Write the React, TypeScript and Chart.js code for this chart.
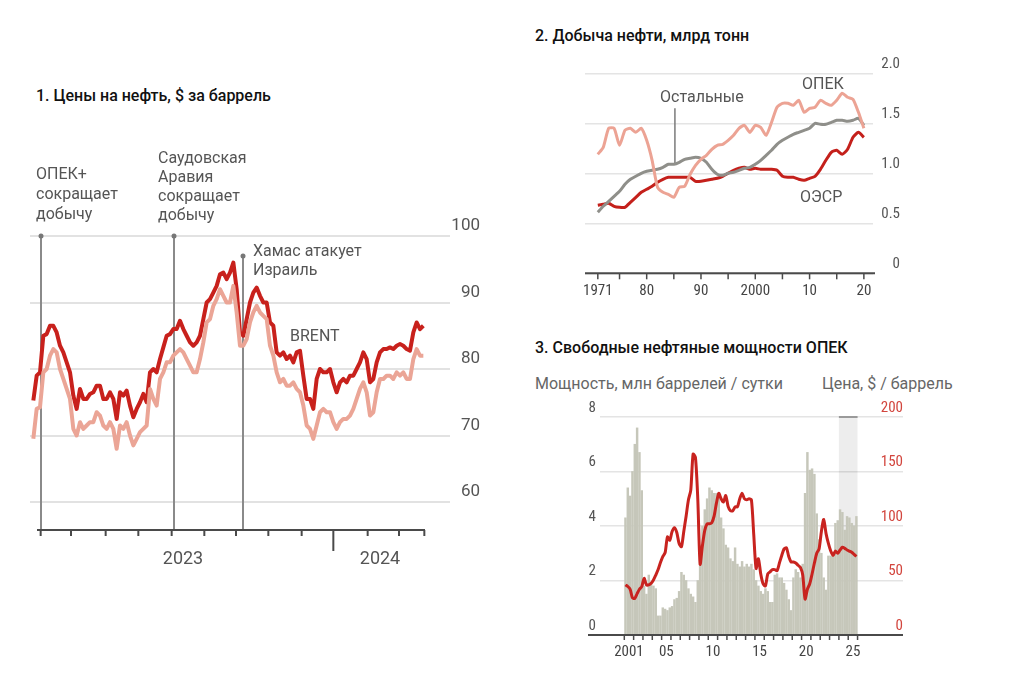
import React, { useEffect, useRef } from "react";
import { Chart, registerables } from "chart.js";
Chart.register(...registerables);

const SANS = "Roboto, 'Noto Sans', Arial, sans-serif";
const NARROW = "'Liberation Sans Narrow', 'Roboto Condensed', Roboto, sans-serif";

// ---------------- Panel 1: oil prices ----------------
const brent = [
  75.25, 79, 79.5, 85, 85.25, 86.5, 86.5, 85.5, 83.5, 82.5,
  81, 79.5, 76, 74, 77, 75.5, 75.5, 76.25, 76.5, 77.5,
  77.5, 75.5, 75.5, 76.5, 75.5, 72.5, 76.5, 76, 76.75, 74.5,
  72.75, 74, 75, 76.25, 75, 79.5, 80, 79.5, 81.5, 83.25,
  85, 85.25, 86, 86, 87.25, 86, 85, 84, 83.5, 84,
  85, 87.5, 90, 90.5, 91.5, 92.5, 94.25, 94.5, 93.5, 94.5,
  96, 92, 85.5, 85, 87.5, 90, 91.5, 92.25, 91, 90,
  90, 87, 86.5, 82.5, 82, 82.5, 81.5, 82, 81, 82.5,
  82.75, 79, 75.5, 75.5, 74, 78.5, 80, 79.5, 79.5, 80,
  78, 76.5, 78, 78.5, 78, 79, 79, 80, 81, 82.5,
  81.5, 78, 78.5, 81, 82.5, 83, 83, 83.25, 83, 83.5,
  83.75, 83.5, 83, 82.75, 85.5, 87, 86, 86.5,
];
const wti = [
  69.5, 74, 74.25, 79.5, 80, 82, 83, 82.5, 80, 78.5,
  77, 75.5, 71, 70, 72, 71, 71.5, 72, 72, 73.5,
  73, 71.5, 71, 72, 71, 68, 71.5, 71, 72, 70,
  68.5, 69.5, 70.5, 71, 71.5, 77, 75.5, 74.5, 78.5, 79.5,
  81, 81, 82, 82.5, 83, 82.5, 81.5, 80.5, 79.5, 79.5,
  81.5, 84, 87, 87.5, 89.5, 90.5, 92, 91, 90, 90,
  92.5, 88.5, 83.5, 83.5, 84.5, 87, 88.5, 89.5, 88.5, 88,
  87.5, 83.5, 82, 79.5, 78, 78.5, 77.5, 77.5, 78, 77,
  76.5, 74.5, 71.5, 71, 69.5, 71.5, 73.5, 74, 73.5, 73.5,
  72, 71, 72, 72.5, 72.5, 73, 74, 75.5, 77, 78,
  76.5, 73, 73.5, 76.5, 78.5, 78.5, 79, 79, 78.5, 79.5,
  79, 79.5, 78.5, 78.5, 81.5, 83, 82, 82,
];
const p1YTicks = [60, 70, 80, 90, 100];
const p1YearLabels = ["2023", "2024"];
const p1YearLabelAt = [44.9, 104];
const p1TickAt = [2.2, 11.3, 21.7, 31.5, 41.5, 51.3, 60.8, 70.5, 80.5, 90, 100.3, 109.7, 117.3];
const p1YearTickAt = 90;
const p1AxisFrom = 1.1;
const p1AxisTo = 117.5;
const p1EventAt = [2.3, 42.2, 62.9];
const p1EventTop = [100, 100, 97];

// ---------------- Panel 2: oil production ----------------
const p2FirstYear = 1971;
const opec = [
  1.19, 1.26, 1.45, 1.45, 1.28, 1.43, 1.45, 1.41, 1.45, 1.33,
  1.13, 0.86, 0.81, 0.79, 0.76, 0.86, 0.87, 0.99, 1.08, 1.14,
  1.18, 1.24, 1.28, 1.29, 1.33, 1.38, 1.45, 1.48, 1.41, 1.48,
  1.46, 1.38, 1.51, 1.66, 1.7, 1.7, 1.68, 1.73, 1.61, 1.65,
  1.66, 1.73, 1.7, 1.68, 1.73, 1.8, 1.76, 1.74, 1.61, 1.45,
];
const others = [
  0.61, 0.67, 0.72, 0.77, 0.82, 0.89, 0.94, 0.97, 1.0, 1.02,
  1.03, 1.04, 1.06, 1.09, 1.09, 1.11, 1.14, 1.15, 1.16, 1.15,
  1.11, 1.04, 0.99, 0.98, 1.0, 1.01, 1.03, 1.05, 1.06, 1.09,
  1.13, 1.18, 1.23, 1.29, 1.33, 1.36, 1.39, 1.41, 1.43, 1.45,
  1.5, 1.49, 1.49, 1.51, 1.53, 1.53, 1.52, 1.53, 1.55, 1.48,
];
const oecd = [
  0.68, 0.69, 0.7, 0.67, 0.66, 0.66, 0.71, 0.76, 0.81, 0.84,
  0.87, 0.91, 0.94, 0.96, 0.96, 0.96, 0.96, 0.96, 0.92, 0.92,
  0.93, 0.94, 0.95, 0.97, 1.0, 1.03, 1.05, 1.06, 1.04, 1.05,
  1.04, 1.04, 1.04, 1.03, 0.97, 0.96, 0.96, 0.94, 0.93, 0.95,
  0.97, 1.04, 1.13, 1.21, 1.23, 1.19, 1.24, 1.36, 1.41, 1.36,
];
const p2YTicks = [0, 0.5, 1, 1.5, 2];
const p2LabelYears = [1971, 1980, 1990, 2000, 2010, 2020];
const p2Labels = ["1971", "80", "90", "2000", "10", "20"];
const p2TickYears = [1971, 1975, 1980, 1985, 1990, 1995, 2000, 2005, 2010, 2015, 2020];
const othersPointerYear = 1985.2;
const othersPointerTop = 1.65;
const othersPointerBottom = 1.1;

// ---------------- Panel 3: OPEC spare capacity ----------------
const p3FirstYear = 2001;
const spare = [
  4.3, 5.4, 5.1, 6.0, 7.0, 7.6, 6.7, 5.3, 1.8, 1.5,
  2.2, 1.9, 1.8, 1.7, 0.7, 0.7, 1.0, 0.95, 0.9, 1.0,
  1.05, 1.3, 1.35, 1.6, 2.3, 2.2, 2.0, 1.7, 1.5, 1.4,
  1.2, 2.0, 3.3, 4.0, 4.6, 5.0, 5.4, 5.3, 5.2, 5.2,
  5.1, 4.3, 3.9, 3.3, 3.2, 2.8, 2.7, 3.2, 2.6, 2.5,
  2.7, 2.5, 2.6, 2.5, 2.6, 2.4, 2.0, 1.8, 1.6, 1.5,
  1.7, 1.6, 1.2, 1.2, 2.2, 2.25, 2.1, 2.1, 1.9, 1.65,
  1.3, 0.9, 2.1, 2.4, 2.3, 2.1, 2.6, 5.2, 6.7, 6.05,
  6.1, 5.9, 4.45, 3.5, 3.0, 2.1, 1.65, 2.9, 2.9, 3.0,
  4.1, 4.2, 4.6, 4.5, 3.85, 4.35, 4.3, 4.1, 4.0, 4.35,
];
const price = [
  46, 44.5, 42, 34, 33.6, 38, 42, 44.5, 52, 46,
  46, 47.5, 50.5, 55, 60, 66.5, 72, 75.5, 90, 87,
  95, 98.5, 94, 84, 81, 95, 109, 124, 133, 166,
  163, 125, 65, 82, 96, 102, 102, 103, 109, 121,
  130, 125, 122, 128, 118, 114, 114, 117.6, 117.6, 125,
  130, 125, 124, 125, 124, 92, 61, 70, 56, 47,
  45, 56, 58, 60, 60, 59, 66, 73, 79, 80,
  72, 67, 67, 66, 64, 62, 55, 33, 42, 47,
  56, 66, 75, 79, 95, 106, 93, 84, 77, 73,
  77, 75, 78, 80.5, 79.5, 78, 77, 76, 74, 72,
];
const p3LeftTicks = [0, 2, 4, 6, 8];
const p3RightTicks = [0, 50, 100, 150, 200];
const p3LabelYears = [2001, 2005, 2010, 2015, 2020, 2025];
const p3Labels = ["2001", "05", "10", "15", "20", "25"];
const p3LastYear = 2025;
const p3ForecastFrom = 2024;

// ---------------- plugins ----------------
const p1Plugin = {
  id: "p1deco",
  beforeDatasetsDraw(chart: any) {
    const { ctx, scales, chartArea } = chart;
    const x = scales.x, y = scales.y;
    ctx.save();
    ctx.strokeStyle = "#8a8a8a";
    ctx.fillStyle = "#777";
    ctx.lineWidth = 2;
    p1EventAt.forEach((ev, i) => {
      const px = x.getPixelForValue(ev);
      const top = y.getPixelForValue(p1EventTop[i]);
      ctx.beginPath();
      ctx.moveTo(px, top);
      ctx.lineTo(px, chartArea.bottom);
      ctx.stroke();
      ctx.beginPath();
      ctx.arc(px, top, 2.5, 0, Math.PI * 2);
      ctx.fill();
    });
    ctx.restore();
  },
  afterDraw(chart: any) {
    const { ctx, scales, chartArea } = chart;
    const x = scales.x;
    const yb = chartArea.bottom;
    ctx.save();
    ctx.strokeStyle = "#4a4a4a";
    ctx.lineWidth = 2;
    ctx.beginPath();
    ctx.moveTo(x.getPixelForValue(p1AxisFrom), yb);
    ctx.lineTo(x.getPixelForValue(p1AxisTo), yb);
    ctx.stroke();
    p1TickAt.forEach((t) => {
      const px = x.getPixelForValue(t);
      ctx.beginPath();
      ctx.moveTo(px, yb);
      ctx.lineTo(px, yb + (t === p1YearTickAt ? 21 : 6));
      ctx.stroke();
    });
    ctx.restore();
  },
};

const p2Plugin = {
  id: "p2deco",
  beforeDatasetsDraw(chart: any) {
    const { ctx, scales } = chart;
    const x = scales.x, y = scales.y;
    ctx.save();
    ctx.strokeStyle = "#7a7a7a";
    ctx.lineWidth = 1.5;
    const px = x.getPixelForValue(othersPointerYear);
    ctx.beginPath();
    ctx.moveTo(px, y.getPixelForValue(othersPointerTop));
    ctx.lineTo(px, y.getPixelForValue(othersPointerBottom));
    ctx.stroke();
    ctx.restore();
  },
  afterDraw(chart: any) {
    const { ctx, scales, chartArea } = chart;
    const x = scales.x, y = scales.y;
    const yb = y.getPixelForValue(0);
    ctx.save();
    ctx.strokeStyle = "#4a4a4a";
    ctx.lineWidth = 2;
    ctx.beginPath();
    ctx.moveTo(chartArea.left, yb);
    ctx.lineTo(chartArea.right + 2, yb);
    ctx.stroke();
    ctx.lineWidth = 1.5;
    p2TickYears.forEach((yr) => {
      const px = x.getPixelForValue(yr);
      ctx.beginPath();
      ctx.moveTo(px, yb);
      ctx.lineTo(px, yb + 6);
      ctx.stroke();
    });
    ctx.restore();
  },
};

const p3Plugin = {
  id: "p3deco",
  beforeDatasetsDraw(chart: any) {
    const { ctx, scales, chartArea } = chart;
    const x = scales.x;
    const x0 = x.getPixelForValue(p3ForecastFrom);
    const x1 = x.getPixelForValue(p3LastYear + 1);
    ctx.save();
    ctx.fillStyle = "rgba(0,0,0,0.07)";
    ctx.fillRect(x0, chartArea.top, x1 - x0, chartArea.bottom - chartArea.top);
    ctx.strokeStyle = "#9a9a9a";
    ctx.lineWidth = 2;
    ctx.beginPath();
    ctx.moveTo(x0, chartArea.top);
    ctx.lineTo(x1, chartArea.top);
    ctx.stroke();
    ctx.restore();
  },
  afterDraw(chart: any) {
    const { ctx, scales, chartArea } = chart;
    const x = scales.x;
    const yb = chartArea.bottom;
    ctx.save();
    ctx.strokeStyle = "#4a4a4a";
    ctx.lineWidth = 2;
    ctx.beginPath();
    ctx.moveTo(chartArea.left - 12, yb);
    ctx.lineTo(chartArea.right + 23, yb);
    ctx.stroke();
    ctx.lineWidth = 1.5;
    for (let yr = p3FirstYear; yr <= p3LastYear + 1; yr++) {
      const px = x.getPixelForValue(yr);
      ctx.beginPath();
      ctx.moveTo(px, yb);
      ctx.lineTo(px, yb + 5);
      ctx.stroke();
    }
    ctx.restore();
  },
};

const common = {
  responsive: false,
  animation: false,
  events: [],
  plugins: { legend: { display: false }, tooltip: { enabled: false }, title: { display: false } },
};

function config1(): any {
  const pts = (arr: number[]) => arr.map((v, i) => ({ x: i, y: v }));
  return {
    type: "line",
    data: {
      datasets: [
        { label: "WTI", data: pts(wti), borderColor: "#eba596", borderWidth: 4, pointRadius: 0, tension: 0, borderJoinStyle: "round" },
        { label: "Brent", data: pts(brent), borderColor: "#c8211c", borderWidth: 4, pointRadius: 0, tension: 0, borderJoinStyle: "round" },
      ],
    },
    options: {
      ...common,
      layout: { padding: { left: 30, top: 36, right: 20, bottom: 0 } },
      scales: {
        x: {
          type: "linear", min: -1, max: 125,
          grid: { display: false, drawTicks: false }, border: { display: false },
          afterBuildTicks: (s: any) => { s.ticks = p1YearLabelAt.map((v) => ({ value: v })); },
          afterFit: (s: any) => { s.height = 70; },
          ticks: { autoSkip: false, maxRotation: 0, padding: 19, color: "#555", font: { family: SANS, size: 18 }, callback: (_v: any, i: number) => p1YearLabels[i] },
        },
        y: {
          position: "right", min: 55.79, max: 100,
          grid: { color: "#e2e2e2", lineWidth: 2, drawTicks: false }, border: { display: false },
          afterBuildTicks: (s: any) => { s.ticks = p1YTicks.map((v) => ({ value: v })); },
          afterFit: (s: any) => { s.width = 30; },
          ticks: { padding: 0, crossAlign: "far", labelOffset: -10, color: "#555", font: { family: SANS, size: 17 }, callback: (v: any) => String(v) },
        },
      },
    },
    plugins: [p1Plugin],
  };
}

function config2(): any {
  const pts = (arr: number[]) => arr.map((v, i) => ({ x: p2FirstYear + i, y: v }));
  return {
    type: "line",
    data: {
      datasets: [
        { label: "ОПЕК", data: pts(opec), borderColor: "#eca394", borderWidth: 3, pointRadius: 0, tension: 0.2 },
        { label: "Остальные", data: pts(others), borderColor: "#8f8f8a", borderWidth: 3, pointRadius: 0, tension: 0.2 },
        { label: "ОЭСР", data: pts(oecd), borderColor: "#c4201b", borderWidth: 3, pointRadius: 0, tension: 0.2 },
      ],
    },
    options: {
      ...common,
      layout: { padding: { left: 65, top: 23.3, right: 20, bottom: 0 } },
      scales: {
        x: {
          type: "linear", min: 1968.64, max: 2021.68,
          grid: { display: false, drawTicks: false }, border: { display: false },
          afterBuildTicks: (s: any) => { s.ticks = p2LabelYears.map((v) => ({ value: v })); },
          afterFit: (s: any) => { s.height = 36.7; },
          ticks: { autoSkip: false, maxRotation: 0, padding: 9, color: "#444", font: { family: NARROW, size: 15 }, callback: (_v: any, i: number) => p2Labels[i] },
        },
        y: {
          position: "right", min: 0, max: 2,
          grid: { color: "#e4e4e4", lineWidth: 1.5, drawTicks: false }, border: { display: false },
          afterBuildTicks: (s: any) => { s.ticks = p2YTicks.map((v) => ({ value: v })); },
          afterFit: (s: any) => { s.width = 27; },
          ticks: { padding: 0, crossAlign: "far", labelOffset: -9, color: "#555", font: { family: NARROW, size: 15 }, callback: (v: any) => (v === 0 ? "0" : Number(v).toFixed(1)) },
        },
      },
    },
    plugins: [p2Plugin],
  };
}

function config3(): any {
  const pts = (arr: number[]) => arr.map((v, i) => ({ x: p3FirstYear + (i + 0.5) / 4, y: v }));
  return {
    type: "bar",
    data: {
      datasets: [
        { type: "line", label: "Цена", data: pts(price), borderColor: "#c8231f", borderWidth: 3, pointRadius: 0, tension: 0.25, yAxisID: "y2", order: 1 },
        { type: "bar", label: "Мощность", data: pts(spare), backgroundColor: "#c6c7ba", barThickness: 1.8, yAxisID: "y", order: 2 },
      ],
    },
    options: {
      ...common,
      layout: { padding: { left: 0, top: 22, right: 17, bottom: 0 } },
      scales: {
        x: {
          type: "linear", min: 1998.396, max: 2028.406, offset: false,
          grid: { display: false, drawTicks: false }, border: { display: false },
          afterBuildTicks: (s: any) => { s.ticks = p3LabelYears.map((v) => ({ value: v + 0.5 })); },
          afterFit: (s: any) => { s.height = 35; },
          ticks: { autoSkip: false, maxRotation: 0, padding: 8, color: "#444", font: { family: NARROW, size: 15 }, callback: (_v: any, i: number) => p3Labels[i] },
        },
        y: {
          position: "left", min: 0, max: 8,
          grid: { display: false, drawTicks: false }, border: { display: false },
          afterBuildTicks: (s: any) => { s.ticks = p3LeftTicks.map((v) => ({ value: v })); },
          afterFit: (s: any) => { s.width = 80; },
          ticks: { padding: 4, labelOffset: -9, color: "#555", font: { family: NARROW, size: 15 }, callback: (v: any) => String(v) },
        },
        y2: {
          position: "right", min: 0, max: 200,
          grid: { color: "#e4e4e4", lineWidth: 1.5, drawTicks: true, tickLength: 23, tickColor: "#e4e4e4", tickWidth: 1.5 }, border: { display: false },
          afterBuildTicks: (s: any) => { s.ticks = p3RightTicks.map((v) => ({ value: v })); },
          afterFit: (s: any) => { s.width = 23; },
          ticks: { padding: 0, crossAlign: "far", labelOffset: -9, color: "#d2453d", font: { family: NARROW, size: 15 }, callback: (v: any) => String(v) },
        },
      },
    },
    plugins: [p3Plugin],
  };
}

function Txt(props: { left: number; top: number; size?: number; weight?: number; color?: string; lh?: number; children: React.ReactNode }) {
  const { left, top, size = 16, weight = 400, color = "#555", lh = 20, children } = props;
  return (
    <div style={{ position: "absolute", left, top, fontSize: size, fontWeight: weight, color, lineHeight: lh + "px", whiteSpace: "pre", fontFamily: SANS }}>
      {children}
    </div>
  );
}

export default function App() {
  const c1 = useRef<HTMLCanvasElement>(null);
  const c2 = useRef<HTMLCanvasElement>(null);
  const c3 = useRef<HTMLCanvasElement>(null);

  useEffect(() => {
    const charts = [
      new Chart(c1.current as HTMLCanvasElement, config1()),
      new Chart(c2.current as HTMLCanvasElement, config2()),
      new Chart(c3.current as HTMLCanvasElement, config3()),
    ];
    return () => charts.forEach((c) => c.destroy());
  }, []);

  return (
    <div style={{ position: "absolute", left: 0, top: 0, width: 1024, height: 682, background: "#fff", overflow: "hidden" }}>
      <canvas ref={c1} width={500} height={400} style={{ position: "absolute", left: 0, top: 200, width: 500, height: 400 }} />
      <canvas ref={c2} width={400} height={260} style={{ position: "absolute", left: 520, top: 50, width: 400, height: 260 }} />
      <canvas ref={c3} width={400} height={275} style={{ position: "absolute", left: 520, top: 395, width: 400, height: 275 }} />

      <Txt left={36} top={86} size={16} weight={500} color="#111">1. Цены на нефть, $ за баррель</Txt>
      <Txt left={36} top={164} lh={20}>{"ОПЕК+\nсокращает\nдобычу"}</Txt>
      <Txt left={158} top={147.5} lh={19}>{"Саудовская\nАравия\nсокращает\nдобычу"}</Txt>
      <Txt left={253} top={240.5} lh={19}>{"Хамас атакует\nИзраиль"}</Txt>
      <Txt left={290} top={326}>BRENT</Txt>

      <Txt left={535} top={26} size={16} weight={500} color="#111">2. Добыча нефти, млрд тонн</Txt>
      <Txt left={660} top={87}>Остальные</Txt>
      <Txt left={802} top={74}>ОПЕК</Txt>
      <Txt left={800} top={187}>ОЭСР</Txt>

      <Txt left={535} top={338} size={16} weight={500} color="#111">3. Свободные нефтяные мощности ОПЕК</Txt>
      <Txt left={535} top={374} size={16} color="#666">Мощность, млн баррелей / сутки</Txt>
      <Txt left={822} top={374} size={16} color="#666">Цена, $ / баррель</Txt>
    </div>
  );
}
